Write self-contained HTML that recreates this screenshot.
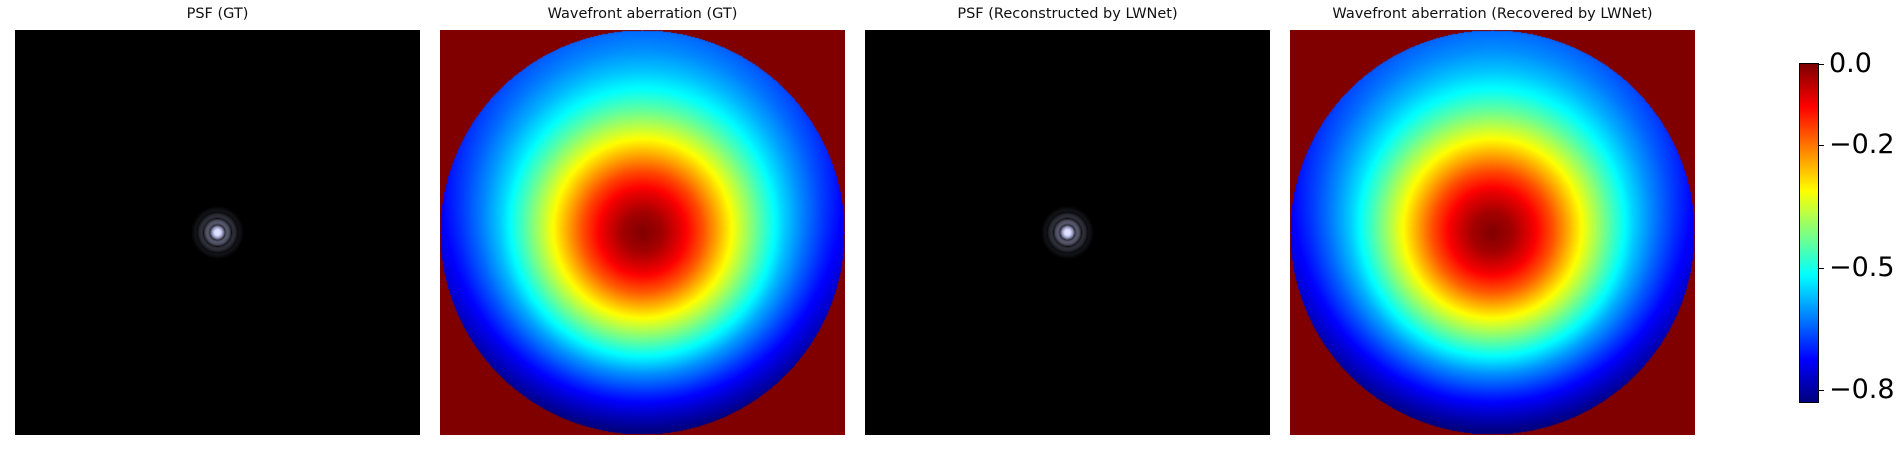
<!DOCTYPE html>
<html><head><meta charset="utf-8">
<style>
body{margin:0;background:#fff;width:1903px;height:450px;overflow:hidden;position:relative;font-family:"DejaVu Sans","Liberation Sans",sans-serif;}
.t{position:absolute;top:6px;width:405px;text-align:center;font-size:14.5px;color:#111;}
canvas{position:absolute;top:30px;}
.tick{position:absolute;left:1818px;width:6px;height:1px;background:#000;}
.tl{position:absolute;left:1829px;font-size:27px;color:#000;line-height:27px;}
</style></head><body>
<div class="t" style="left:15px">PSF (GT)</div>
<div class="t" style="left:440px">Wavefront aberration (GT)</div>
<div class="t" style="left:865px">PSF (Reconstructed by LWNet)</div>
<div class="t" style="left:1290px">Wavefront aberration (Recovered by LWNet)</div>
<canvas id="c1" width="405" height="405" style="left:15px"></canvas>
<canvas id="c2" width="405" height="405" style="left:440px"></canvas>
<canvas id="c3" width="405" height="405" style="left:865px"></canvas>
<canvas id="c4" width="405" height="405" style="left:1290px"></canvas>
<canvas id="cb" width="18" height="338" style="left:1800px;top:64px;outline:1px solid #000"></canvas>
<div id="ticks"></div>
<script>
// data
const cbRange = [-0.83, 0];
const cbTicks = [0.0, -0.2, -0.5, -0.8];
const cbTickLabels = ["0.0", "\u22120.2", "\u22120.5", "\u22120.8"];
const profileR = [0, 0.1, 0.2, 0.3, 0.4, 0.5, 0.6, 0.7, 0.8, 0.9, 1.0];
const profileGT = [0, -0.03, -0.09, -0.17, -0.27, -0.37, -0.47, -0.56, -0.63, -0.69, -0.74];
const profileRec = [0, -0.03, -0.09, -0.17, -0.27, -0.37, -0.47, -0.56, -0.63, -0.69, -0.74];
const tiltCoef = [-0.10, -0.10];

function jet(t){
  t=Math.max(0,Math.min(1,t));
  const f=x=>Math.max(0,Math.min(1,x));
  return [f(1.5-Math.abs(4*t-3)),f(1.5-Math.abs(4*t-2)),f(1.5-Math.abs(4*t-1))].map(v=>Math.round(v*255));
}
function norm(v){return (v-cbRange[0])/(cbRange[1]-cbRange[0]);}
function prof(arr,r){
  for(let k=0;k<profileR.length-1;k++){
    if(r<=profileR[k+1]){const f=(r-profileR[k])/(profileR[k+1]-profileR[k]);return arr[k]+f*(arr[k+1]-arr[k]);}
  }
  return arr[arr.length-1];
}
function wave(id,k){
  const arr=k===0?profileGT:profileRec;
  const c=document.getElementById(id),x=c.getContext('2d'),im=x.createImageData(405,405);
  for(let j=0;j<405;j++)for(let i=0;i<405;i++){
    const u=(i-202)/202,w=(j-202)/202,r=Math.sqrt(u*u+w*w);
    let v=0; if(r<=1) v=prof(arr,r)+tiltCoef[k]*w*r;
    const col=jet(norm(v)),p=(j*405+i)*4;
    im.data[p]=col[0];im.data[p+1]=col[1];im.data[p+2]=col[2];im.data[p+3]=255;
  }
  x.putImageData(im,0,0);
}
function J1(x){let s=0;for(let m=0;m<25;m++){let f=1;for(let q=2;q<=m;q++)f*=q;let g=f*(m+1);s+=Math.pow(-1,m)*Math.pow(x/2,2*m+1)/(f*g);}return s;}
function psf(id){
  const c=document.getElementById(id),x=c.getContext('2d'),im=x.createImageData(405,405);
  for(let j=0;j<405;j++)for(let i=0;i<405;i++){
    const r=Math.hypot(i-202,j-202),p=(j*405+i)*4;
    let I=0;
    if(r<27){const a=r*0.5;I=a<1e-6?1:Math.pow(2*J1(a)/a,2);I=Math.min(1,Math.pow(I,0.22)*1.1)*Math.max(0,1-Math.pow(r/27,2));}
    im.data[p]=Math.round(I*225);im.data[p+1]=Math.round(I*228);im.data[p+2]=Math.round(Math.min(1,I*1.1)*255);im.data[p+3]=255;
  }
  x.putImageData(im,0,0);
}
psf('c1');psf('c3');wave('c2',0);wave('c4',1);
const cb=document.getElementById('cb').getContext('2d');
for(let j=0;j<338;j++){const col=jet(1-j/337);cb.fillStyle=`rgb(${col})`;cb.fillRect(0,j,18,1);}
const T=document.getElementById('ticks');
cbTicks.forEach((v,n)=>{
  const y=64+(1-norm(v))*338;
  const t=document.createElement('div');t.className='tick';t.style.top=y+'px';
  
  
  T.appendChild(t);
  const l=document.createElement('div');l.className='tl';l.style.top=(y-14)+'px';l.textContent=cbTickLabels[n];
  
  
  T.appendChild(l);
});
</script>
</body></html>
